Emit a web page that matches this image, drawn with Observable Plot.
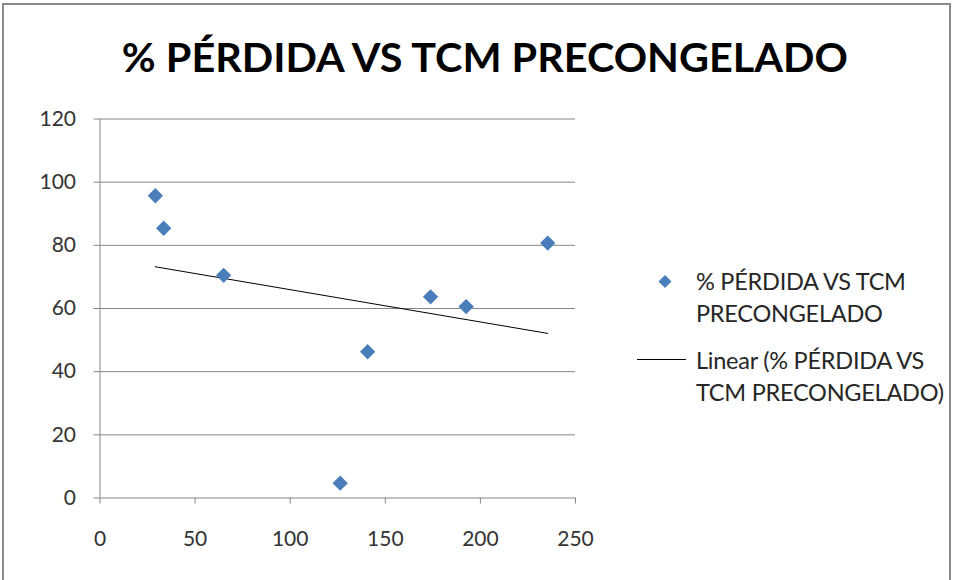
<!DOCTYPE html>
<html>
<head>
<meta charset="utf-8">
<script src="https://cdn.jsdelivr.net/npm/d3@7"></script>
<script src="https://cdn.jsdelivr.net/npm/@observablehq/plot@0.6"></script>
<style>
  html, body { margin: 0; padding: 0; background: #fff; }
  #wrap { position: relative; width: 953px; height: 580px; overflow: hidden; font-family: Lato, "Open Sans", sans-serif; }
  #frame { position: absolute; left: 2px; top: 3px; width: 945px; height: 620px; border: 2px solid #8a8a8a; }
  #title { position: absolute; left: 0; top: 36px; width: 970px; text-align: center; font-weight: bold; font-size: 41px; line-height: 41px; color: #000; white-space: nowrap; }
  #title span { display: inline-block; transform-origin: center; }
  #chart { position: absolute; left: 0; top: 100px; }
  #legend { position: absolute; left: 636px; top: 265px; font-size: 23.5px; letter-spacing: -0.25px; color: #262626; line-height: 32px; }
  .item { position: relative; padding-left: 60px; }
  .item svg { position: absolute; left: 0; top: 0; }
</style>
</head>
<body>
<div id="wrap">
  <div id="frame"></div>
  <div id="title"><span id="titletext"></span></div>
  <div id="chart"></div>
  <div id="legend"></div>
</div>
<script>
const titleText = "% PÉRDIDA VS TCM PRECONGELADO";
const seriesName = "% PÉRDIDA VS TCM PRECONGELADO";
const trendName = "Linear (% PÉRDIDA VS TCM PRECONGELADO)";
const tcm = [29.1, 33.5, 65.0, 126.3, 140.7, 173.8, 192.5, 235.4];
const perdida = [95.7, 85.4, 70.5, 4.7, 46.3, 63.7, 60.6, 80.7];
const xTicks = [0, 50, 100, 150, 200, 250];
const yTicks = [0, 20, 40, 60, 80, 100, 120];

const data = tcm.map((x, i) => ({x, y: perdida[i]}));
const blue = "#4a7ebb";
const grid = "#868686";

document.getElementById("titletext").textContent = titleText;

const chart = Plot.plot({
  width: 620,
  height: 480,
  marginLeft: 99.5,
  marginRight: 45,
  marginTop: 18.5,
  marginBottom: 82.5,
  x: {domain: [0, 250]},
  y: {domain: [0, 120]},
  style: {fontFamily: "Lato, 'Open Sans', sans-serif", fontSize: "21px", background: "transparent", overflow: "visible"},
  marks: [
    Plot.ruleY(yTicks, {stroke: grid, strokeWidth: 1}),
    Plot.ruleX([0], {stroke: grid, strokeWidth: 1}),
    Plot.axisY(yTicks, {tickSize: 6, tickPadding: 18, stroke: grid, fill: "#333", label: null}),
    Plot.axisX(xTicks, {tickSize: 6, tickPadding: 27, stroke: grid, fill: "#333", label: null}),
    Plot.linearRegressionY(data, {x: "x", y: "y", ci: 0, stroke: "#000", strokeWidth: 1}),
    Plot.dot(data, {x: "x", y: "y", symbol: "diamond2", r: 6.9, fill: blue, stroke: "none"})
  ]
});
document.getElementById("chart").appendChild(chart);

// legend
const legend = document.getElementById("legend");
const item1 = document.createElement("div");
item1.className = "item";
item1.innerHTML = `<svg width="60" height="40"><path d="M29,10 L35.5,16.5 L29,23 L22.5,16.5 Z" fill="${blue}"/></svg><div style="width:245px"></div>`;
item1.lastChild.textContent = seriesName;
const item2 = document.createElement("div");
item2.className = "item";
item2.style.marginTop = "15px";
item2.innerHTML = `<svg width="60" height="40"><line x1="1" y1="15.5" x2="50" y2="15.5" stroke="#000" stroke-width="1"/></svg><div style="width:252px"></div>`;
item2.lastChild.textContent = trendName;
legend.appendChild(item1);
legend.appendChild(item2);

// fit title width to reference span
const ts = document.getElementById("titletext");
const w = ts.getBoundingClientRect().width;
ts.style.transform = `scaleX(${726 / w})`;
</script>
</body>
</html>
